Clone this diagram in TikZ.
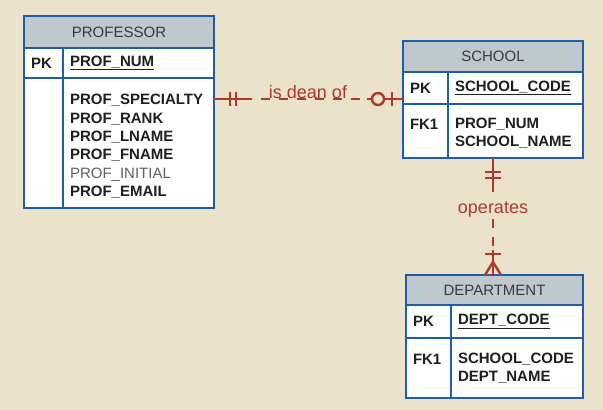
\documentclass[tikz,border=0pt]{standalone}
\usepackage{fontspec}
\setmainfont{Liberation Sans}
\usetikzlibrary{positioning}
\definecolor{bgtan}{HTML}{EAE2CB}
\definecolor{headgray}{HTML}{BEC8CD}
\definecolor{tabblue}{HTML}{1E5DAE}
\definecolor{relred}{HTML}{B0382B}
\definecolor{headtext}{HTML}{3A3A3A}
\newcommand{\cellfont}{\fontsize{15}{18.3}\selectfont}
\newcommand{\toppad}[1]{\rule{0pt}{#1}} % pushes a list of attributes a bit down
\tikzset{
x=1pt, y=-1pt, % pixel-like units, y runs downwards
node distance=0pt, % cells of a table touch each other
tabhead/.style={draw=tabblue, fill=headgray, line width=1.6pt, inner sep=0pt, outer sep=0pt, text=headtext, font=\cellfont}, % title bar of a table
tabcell/.style={draw=tabblue, fill=white, line width=1.6pt, inner xsep=7pt, inner ysep=0pt, outer sep=0pt, align=left, text=black!88, font=\cellfont\bfseries}, % one cell of a table
relline/.style={draw=relred, line width=2.4pt}, % relationship line
reldash/.style={dash pattern=on 9pt off 9pt}, % middle part of a relationship
rellabel/.style={text=relred, font=\fontsize{18}{20}\selectfont, inner sep=1pt}, % relationship name
}

\begin{document}
\begin{tikzpicture}
        \fill[bgtan] (0,0) rectangle (603,410);
        \useasboundingbox (0,0) rectangle (603,410);

        % PROFESSOR
        \node[tabhead, minimum width=190pt, minimum height=32pt] (profhead) at (119,32) {PROFESSOR};
        \node[tabcell, text width=25pt, minimum height=30pt, below right=0pt and 0pt of profhead.south west] (profpk) {PK};
        \node[tabcell, text width=137pt, minimum height=30pt, right=of profpk] (profpkatt) {\underline{PROF\_NUM}};
        \node[tabcell, text width=25pt, minimum height=130pt, below=of profpk] (profkey) {};
        \node[tabcell, text width=137pt, minimum height=130pt, below=of profpkatt] (profatt) {\toppad{17pt}PROF\_SPECIALTY\\PROF\_RANK\\PROF\_LNAME\\PROF\_FNAME\\{\mdseries\color{black!62}PROF\_INITIAL}\\PROF\_EMAIL};

        % SCHOOL
        \node[tabhead, minimum width=180pt, minimum height=31pt] (schhead) at (493,56.5) {SCHOOL};
        \node[tabcell, text width=31pt, minimum height=32pt, below right=0pt and 0pt of schhead.south west] (schpk) {PK};
        \node[tabcell, text width=121pt, minimum height=32pt, right=of schpk] (schpkatt) {\underline{SCHOOL\_CODE}};
        \node[tabcell, text width=31pt, minimum height=54pt, below=of schpk] (schkey) {\toppad{15pt}FK1\\~};
        \node[tabcell, text width=121pt, minimum height=54pt, below=of schpkatt] (schfk) {\toppad{15pt}PROF\_NUM\\SCHOOL\_NAME};

        % DEPARTMENT
        \node[tabhead, minimum width=177pt, minimum height=30pt] (dephead) at (494.5,290) {DEPARTMENT};
        \node[tabcell, text width=31pt, minimum height=33pt, below right=0pt and 0pt of dephead.south west] (deppk) {PK};
        \node[tabcell, text width=118pt, minimum height=33pt, right=of deppk] (deppkatt) {\underline{DEPT\_CODE}};
        \node[tabcell, text width=31pt, minimum height=60pt, below=of deppk] (depkey) {FK1\\~};
        \node[tabcell, text width=118pt, minimum height=60pt, below=of deppkatt] (depfk) {SCHOOL\_CODE\\DEPT\_NAME};

        % is dean of
        \coordinate (deanA) at (profatt.east |- 0,99);
        \coordinate (deanB) at (schpk.west |- 0,99);
        \draw[relline] (deanA) -- ++(29,0) coordinate (deanA1);
        \draw[relline] (deanB) -- ++(-36,0) coordinate (deanB1);
        \draw[relline, reldash] (deanA1) -- (deanB1);
        \draw[relline] (deanA) ++(16,-7) -- ++(0,14);
        \draw[relline] (deanA) ++(22,-7) -- ++(0,14);
        \draw[relline] (deanB) ++(-11,-7) -- ++(0,14);
        \draw[relline, fill=bgtan] (deanB) ++(-25,0) circle (6pt);
        \node[rellabel, anchor=base] (deanlbl) at (308,98) {is dean of};

        % operates
        \coordinate (opA) at (schhead.south |- schfk.south);
        \coordinate (opB) at (dephead.north -| opA);
        \draw[relline] (opA) -- ++(0,25) coordinate (opA1);
        \draw[relline] (opB) -- ++(0,-25) coordinate (opB1);
        \draw[relline, reldash] (opA1) -- (opB1);
        \draw[relline] (opA) ++(-8,14) -- ++(16,0);
        \draw[relline] (opA) ++(-8,20) -- ++(16,0);
        \draw[relline] (opB) ++(-8,-21) -- ++(16,0);
        \draw[relline] (opB) ++(0,-13) -- ++(-8,13) (opB) ++(0,-13) -- ++(8,13);
        \node[rellabel, fill=bgtan] (oplbl) at (opA |- 0,210) {operates};
\end{tikzpicture}
\end{document}
